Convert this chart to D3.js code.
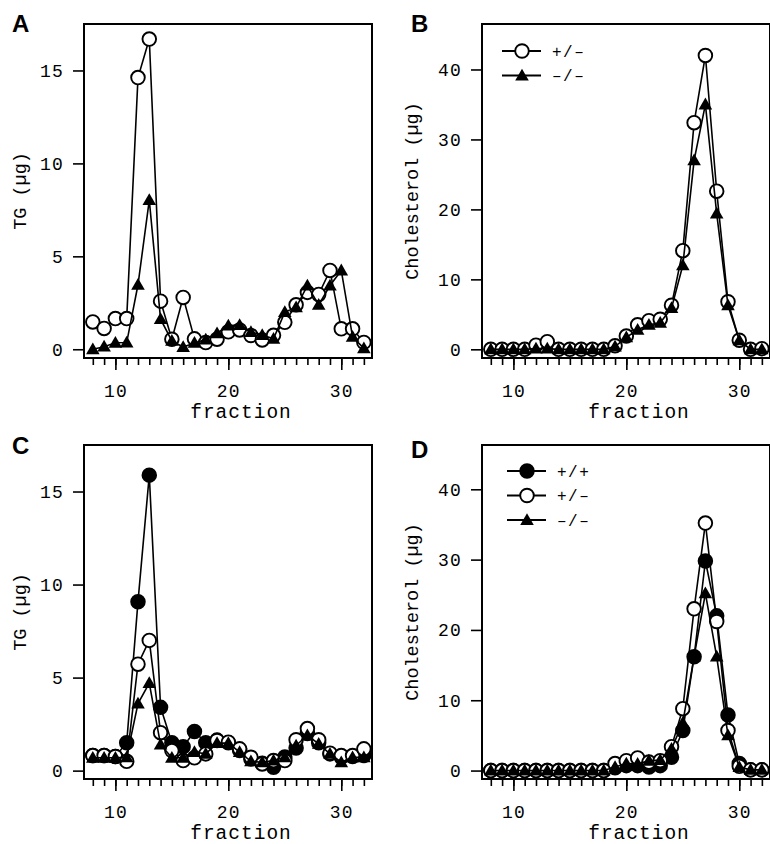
<!DOCTYPE html>
<meta charset="utf-8">
<script src="https://cdn.jsdelivr.net/npm/d3@7"></script>
<style type="text/css">
  body { margin: 0; background: white; }
  .tick text, .label, .legendText {
    font-family: "Liberation Mono", "Courier New", monospace;
    fill: black;
  }
  .panelLetter {
    font-family: "Liberation Sans", Arial, sans-serif;
    font-weight: bold;
    font-size: 24px;
  }
</style>
<svg width="770" height="844"></svg>
<script>

////////////////////
// DATA

const fractions = [8, 9, 10, 11, 12, 13, 14, 15, 16, 17, 18, 19, 20, 21, 22, 23, 24, 25, 26, 27, 28, 29, 30, 31, 32];

// panel A: TG, +/- and -/-
const tgHetA = [1.47, 1.12, 1.65, 1.65, 14.62, 16.69, 2.59, 0.54, 2.79, 0.56, 0.36, 0.54, 0.94, 1.04, 0.74, 0.5, 0.75, 1.45, 2.39, 3.06, 2.95, 4.24, 1.1, 1.1, 0.37];
const tgKoA = [0, 0.14, 0.35, 0.36, 3.47, 8.02, 1.62, 0.45, 0.12, 0.34, 0.52, 0.86, 1.28, 1.3, 0.93, 0.76, 0.56, 2.0, 2.25, 3.42, 2.39, 3.43, 4.24, 0.67, 0.05];

// panel B: cholesterol, +/- and -/-
const cholHetB = [0, 0, 0, 0, 0.6, 1.1, 0, 0, 0, 0, 0, 0.5, 1.9, 3.5, 4.1, 4.3, 6.3, 14.1, 32.4, 42.0, 22.6, 6.8, 1.3, 0, 0.1];
const cholKoB = [0, 0, 0, 0, 0.1, 0.1, 0, 0, 0, 0, 0, 0.4, 1.7, 2.8, 3.5, 3.8, 5.9, 12.0, 27.0, 35.0, 19.4, 6.3, 1.3, 0, 0];

// panel C: TG, +/+, +/- and -/-
const tgWtC = [0.81, 0.81, 0.76, 1.5, 9.08, 15.88, 3.4, 1.5, 1.28, 2.1, 1.5, 1.64, 1.5, 1.08, 0.63, 0.4, 0.18, 0.73, 1.22, 1.99, 1.5, 0.9, 0.72, 0.76, 0.81];
const tgHetC = [0.81, 0.81, 0.76, 0.5, 5.72, 7.0, 2.04, 1.08, 0.54, 0.69, 0.9, 1.62, 1.53, 1.17, 0.72, 0.36, 0.54, 0.54, 1.66, 2.26, 1.66, 0.94, 0.81, 0.81, 1.17];
const tgKoC = [0.69, 0.69, 0.69, 0.72, 3.6, 4.7, 1.4, 0.69, 0.69, 1.0, 0.9, 1.48, 1.48, 1.0, 0.5, 0.45, 0.54, 0.72, 1.35, 1.9, 1.44, 0.9, 0.45, 0.72, 0.72];

// panel D: cholesterol, +/+, +/- and -/-
const cholWtD = [0, 0, 0, 0, 0, 0, 0, 0, 0, 0, 0, 0.4, 0.7, 0.7, 0.5, 0.7, 1.9, 5.7, 16.2, 29.8, 22.0, 7.9, 1.0, 0.1, 0.1];
const cholHetD = [0, 0, 0, 0, 0, 0, 0, 0, 0, 0, 0, 1.0, 1.4, 1.8, 1.2, 1.4, 3.4, 8.8, 23.0, 35.2, 21.2, 5.7, 0.6, 0.1, 0.1];
const cholKoD = [0, 0, 0, 0, 0, 0, 0, 0, 0, 0, 0, 0.5, 1.0, 0.95, 1.4, 1.5, 3.1, 6.8, 16.2, 25.2, 16.2, 5.0, 0.5, 0.1, 0.1];

const tgTicks = [0, 5, 10, 15];
const cholTicks = [0, 10, 20, 30, 40];
const majorX = [10, 20, 30];

const genoLabels = { wt: "+/+", het: "+/\u2013", ko: "\u2013/\u2013" };

////////////////////
// SVG

const svg = d3.select("svg");

const W = 288, H = 334;

const panels = [
  { letter: "A", lx: 12, ly: 32, left: 84, top: 24, yMax: 17.5, yMin: -0.47, ticks: tgTicks, ylab: "TG (\u00b5g)",
    series: [{ type: "het", values: tgHetA }, { type: "ko", values: tgKoA }] },
  { letter: "B", lx: 411, ly: 32, left: 482, top: 24, yMax: 46.5, yMin: -1.24, ticks: cholTicks, ylab: "Cholesterol (\u00b5g)",
    series: [{ type: "het", values: cholHetB }, { type: "ko", values: cholKoB }], legend: true },
  { letter: "C", lx: 12, ly: 454, left: 84, top: 445, yMax: 17.5, yMin: -0.45, ticks: tgTicks, ylab: "TG (\u00b5g)",
    series: [{ type: "wt", values: tgWtC }, { type: "het", values: tgHetC }, { type: "ko", values: tgKoC }] },
  { letter: "D", lx: 411, ly: 458, left: 482, top: 445, yMax: 46.3, yMin: -1.2, ticks: cholTicks, ylab: "Cholesterol (\u00b5g)",
    series: [{ type: "wt", values: cholWtD }, { type: "het", values: cholHetD }, { type: "ko", values: cholKoD }], legend: true }
];

const triangle = d3.symbol().type(d3.symbolTriangle).size(80);

function drawMarker(sel, type) {
  if (type === "ko") {
    sel.append("path")
      .attr("d", triangle)
      .attr("transform", "translate(0,1)")
      .attr("fill", "black");
  } else {
    sel.append("circle")
      .attr("r", 6.8)
      .attr("fill", type === "wt" ? "black" : "white")
      .attr("stroke", "black")
      .attr("stroke-width", 1.9);
  }
}

function drawPanel(p) {
  const x = d3.scaleLinear().domain([7.22, 32.72]).range([0, W]);
  const y = d3.scaleLinear().domain([p.yMin, p.yMax]).range([H, 0]);

  svg.append("text")
    .attr("class", "panelLetter")
    .attr("x", p.lx)
    .attr("y", p.ly)
    .text(p.letter);

  const g = svg.append("g")
    .attr("transform", `translate(${p.left}, ${p.top})`);

  // y axis
  const yAxis = g.append("g")
    .call(d3.axisLeft(y).tickValues(p.ticks).tickSize(11).tickPadding(9));
  yAxis.select(".domain").remove();
  yAxis.selectAll(".tick line").attr("stroke-width", 1.6);
  yAxis.selectAll(".tick text").style("font-size", "18px").attr("letter-spacing", 1.2);

  // x axis, minor ticks
  const xMinor = g.append("g")
    .attr("transform", `translate(0, ${H})`)
    .call(d3.axisBottom(x).tickValues(fractions).tickSize(7).tickFormat(""));
  xMinor.select(".domain").remove();
  xMinor.selectAll(".tick line").attr("stroke-width", 1.6);

  // x axis, major ticks
  const xMajor = g.append("g")
    .attr("transform", `translate(0, ${H})`)
    .call(d3.axisBottom(x).tickValues(majorX).tickSize(12).tickPadding(14));
  xMajor.select(".domain").remove();
  xMajor.selectAll(".tick line").attr("stroke-width", 1.6);
  xMajor.selectAll(".tick text").style("font-size", "18px").attr("letter-spacing", 1.2);

  g.append("text")
    .attr("class", "label")
    .attr("x", W / 2 + 13)
    .attr("y", H + 60)
    .attr("text-anchor", "middle")
    .style("font-size", "19.5px")
    .attr("letter-spacing", 1)
    .text("fraction");

  g.append("text")
    .attr("class", "label")
    .attr("transform", `translate(${p.left === 84 ? -58 : -64}, ${H / 2}) rotate(-90)`)
    .attr("text-anchor", "middle")
    .style("font-size", "18.5px")
    .text(p.ylab);

  const line = d3.line()
    .x((d, i) => x(fractions[i]))
    .y(d => y(d));

  const plot = g.append("g");
  p.series.forEach(s => {
    plot.append("path")
      .datum(s.values)
      .attr("d", line)
      .attr("fill", "none")
      .attr("stroke", "black")
      .attr("stroke-width", 1.6);
    plot.selectAll(null)
      .data(s.values)
      .enter().append("g")
      .attr("transform", (d, i) => `translate(${x(fractions[i])}, ${y(d)})`)
      .each(function() { drawMarker(d3.select(this), s.type); });
  });

  // frame
  g.append("rect")
    .attr("width", W)
    .attr("height", H)
    .attr("fill", "none")
    .attr("stroke", "black")
    .attr("stroke-width", 2);

  if (p.legend) {
    const types = p.series.map(s => s.type);
    const leg = g.selectAll(".leg")
      .data(types)
      .enter().append("g")
      .attr("transform", (d, i) => `translate(${types.length === 2 ? 20 : 25}, ${(types.length === 2 ? 27 : 26) + i * 24.5})`);
    leg.append("line")
      .attr("x1", 0).attr("x2", 39)
      .attr("stroke", "black")
      .attr("stroke-width", 1.8);
    leg.append("g")
      .attr("transform", "translate(20, 0)")
      .each(function(d) { drawMarker(d3.select(this), d); });
    leg.append("text")
      .attr("class", "legendText")
      .attr("x", 50)
      .attr("dy", "0.35em")
      .style("font-size", "16px")
      .attr("letter-spacing", 1.5)
      .text(d => genoLabels[d]);
  }
}

panels.forEach(drawPanel);

</script>
